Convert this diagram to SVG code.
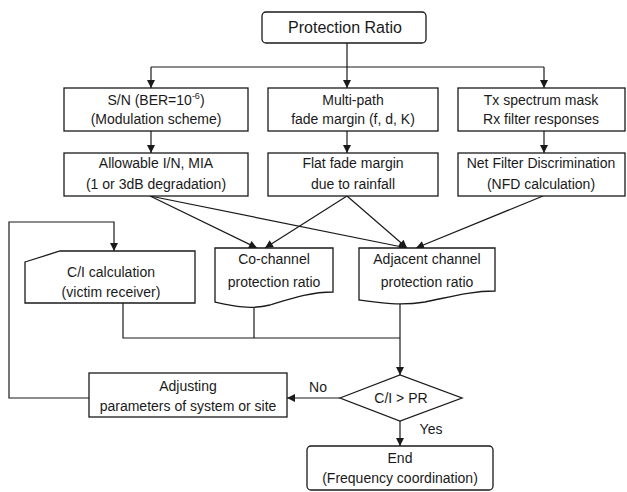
<svg xmlns="http://www.w3.org/2000/svg" width="627" height="492" viewBox="0 0 627 492">
<defs>
<marker id="ah" viewBox="0 0 10 10" refX="10" refY="5" markerWidth="9" markerHeight="8" orient="auto" markerUnits="userSpaceOnUse">
<path d="M0,0 L10,5 L0,10 z" fill="#1a1a1a"/>
</marker>
<style>
.n{fill:#fff;stroke:#1a1a1a;stroke-width:1.3}
.c{fill:none;stroke:#1a1a1a;stroke-width:1.2}
.a{marker-end:url(#ah)}
text{font-family:"Liberation Sans",Arial,sans-serif;font-size:14px;fill:#1a1a1a;text-anchor:middle}
.t{font-size:16px}
</style>
</defs>
<rect width="627" height="492" fill="#fff"/>
<g id="connectors">
<path class="c" d="M347,43 V67 M151,67 H544"/>
<path class="c a" d="M151,67 V88"/>
<path class="c a" d="M347,67 V88"/>
<path class="c a" d="M544,67 V88"/>
<path class="c a" d="M151,131 V153"/>
<path class="c a" d="M347,131 V153"/>
<path class="c a" d="M544,131 V153"/>
<path class="c a" d="M150,196 L257,248"/>
<path class="c a" d="M150,196 L407,248"/>
<path class="c a" d="M347,196 L265,248"/>
<path class="c a" d="M347,196 L407,248"/>
<path class="c a" d="M543,196 L416,248"/>
<path class="c a" d="M89,398 H9 V222 H114 V251"/>
<path class="c" d="M123,303 V338 H400 M254,307 V338"/>
<path class="c a" d="M400,302 V375"/>
<path class="c a" d="M340,398 H287"/>
<path class="c a" d="M400,421 V446"/>
</g>
<g id="protection-ratio">
<rect class="n" x="262" y="12" width="164" height="31" rx="4"/>
<text class="t" x="345" y="33">Protection Ratio</text>
</g>
<g id="sn">
<rect class="n" x="64" y="88" width="184" height="43"/>
<text x="156" y="105">S/N (BER=10<tspan font-size="9" dy="-6">-6</tspan><tspan dy="6">)</tspan></text>
<text x="156" y="124">(Modulation scheme)</text>
</g>
<g id="multipath">
<rect class="n" x="268" y="88" width="170" height="43"/>
<text x="353" y="105">Multi-path</text>
<text x="353" y="124">fade margin (f, d, K)</text>
</g>
<g id="tx-mask">
<rect class="n" x="458" y="88" width="167" height="43"/>
<text x="541" y="105">Tx spectrum mask</text>
<text x="541" y="124">Rx filter responses</text>
</g>
<g id="allowable">
<rect class="n" x="64" y="153" width="184" height="43"/>
<text x="156" y="168">Allowable I/N, MIA</text>
<text x="156" y="189">(1 or 3dB degradation)</text>
</g>
<g id="flat-fade">
<rect class="n" x="268" y="153" width="170" height="43"/>
<text x="353" y="168">Flat fade margin</text>
<text x="353" y="189">due to rainfall</text>
</g>
<g id="nfd">
<rect class="n" x="458" y="153" width="167" height="43"/>
<text x="541" y="168">Net Filter Discrimination</text>
<text x="541" y="189">(NFD calculation)</text>
</g>
<g id="ci-calc">
<path class="n" d="M25,262 L60,251 H195 V303 H25 Z"/>
<text x="111" y="277">C/I calculation</text>
<text x="111" y="297">(victim receiver)</text>
</g>
<g id="co-channel">
<path class="n" d="M215,248 H333 V292 C310,292 290,299 270,305 C250,310 233,306 215,302 Z"/>
<text x="274" y="264">Co-channel</text>
<text x="274" y="287">protection ratio</text>
</g>
<g id="adjacent">
<path class="n" d="M359,248 H495 V291 C470,291 450,297 425,302 C400,306 380,303 359,300 Z"/>
<text x="427" y="264">Adjacent channel</text>
<text x="427" y="287">protection ratio</text>
</g>
<g id="adjusting">
<rect class="n" x="89" y="373" width="198" height="44"/>
<text x="188" y="391">Adjusting</text>
<text x="188" y="411">parameters of system or site</text>
</g>
<g id="decision">
<path class="n" d="M340,398 L400,375 L462,398 L400,421 Z"/>
<text x="401" y="403">C/I &gt; PR</text>
<text x="318" y="392">No</text>
<text x="431" y="434">Yes</text>
</g>
<g id="end">
<rect class="n" x="307" y="446" width="186" height="44" rx="4"/>
<text x="400" y="463">End</text>
<text x="400" y="483">(Frequency coordination)</text>
</g>
</svg>
